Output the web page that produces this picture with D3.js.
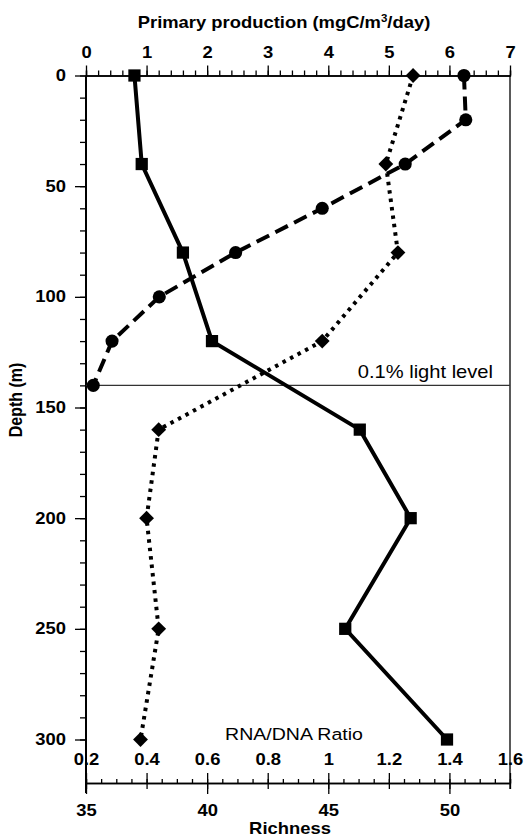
<!DOCTYPE html>
<html>
<head>
<meta charset="utf-8">
<script src="https://cdn.jsdelivr.net/npm/d3@7"></script>
<style>
  body { margin: 0; background: #fff; }
  svg { display: block; }
  text { font-family: Arial, "Liberation Sans", sans-serif; fill: #000; }
</style>
</head>
<body>
<div id="chart"></div>
<script>
// Data ------------------------------------------------------------------------------------------------------
const ppDepth = [0, 20, 40, 60, 80, 100, 120, 140];
const ppValue = [6.24, 6.27, 5.27, 3.90, 2.47, 1.21, 0.43, 0.12];

const sampleDepth = [0, 40, 80, 120, 160, 200, 250, 300];
const rnaDna = [1.28, 1.19, 1.23, 0.98, 0.44, 0.40, 0.44, 0.38];
const richness = [37.0, 37.3, 39.0, 40.2, 46.3, 48.4, 45.7, 49.9];

const lightDepth = 140;

const ppTicks = [0, 1, 2, 3, 4, 5, 6, 7];
const depthTicks = [0, 50, 100, 150, 200, 250, 300];
const rnaTicks = [0.2, 0.4, 0.6, 0.8, 1, 1.2, 1.4, 1.6];
const richTicks = [35, 40, 45, 50];

// Dimensions ------------------------------------------------------------------------------------------------
const width = 525, height = 838;
const plotLeft = 86, plotRight = 510, plotTop = 75.5, bottomAxis = 783;
const sx = 1.15; // text looks a bit wide in the original

const svg = d3.select("#chart").append("svg")
  .attr("width", width)
  .attr("height", height);

// Scales ----------------------------------------------------------------------------------------------------
const xPP = d3.scaleLinear().domain([0, 7]).range([plotLeft, plotRight]);
const xRNA = d3.scaleLinear().domain([0.2, 1.6]).range([plotLeft, plotRight]);
const xRich = d3.scaleLinear().domain([35, 52.5]).range([plotLeft, plotRight]);
const y = d3.scaleLinear().domain([0, 300]).range([plotTop, 739.5]);

// stretch axis text horizontally
const stretch = sel => sel.each(function() {
  const t = d3.select(this);
  const x0 = +t.attr("x") || 0;
  t.attr("x", x0 / sx).attr("transform", `scale(${sx},1)`);
});

const styleAxis = g => {
  g.selectAll("line").attr("stroke", "#000").attr("stroke-width", 1.3);
  g.selectAll("path").attr("stroke", "#000").attr("stroke-width", 1.3);
  g.selectAll("text").attr("font-size", 16).attr("font-weight", "bold")
    .attr("font-family", "Arial, 'Liberation Sans', sans-serif");
};

// Frame lines
svg.append("line").attr("x1", plotLeft).attr("x2", plotLeft).attr("y1", plotTop).attr("y2", 793)
  .attr("stroke", "#000").attr("stroke-width", 2);
svg.append("line").attr("x1", plotRight).attr("x2", plotRight).attr("y1", plotTop).attr("y2", 789)
  .attr("stroke", "#000").attr("stroke-width", 1.3);

// Top axis (primary production)
svg.append("g").attr("transform", `translate(0,${plotTop})`)
  .call(d3.axisTop(xPP).tickValues(d3.range(0, 7.01, 0.2)).tickSize(5).tickFormat(""))
  .call(styleAxis);
const topAx = svg.append("g").attr("transform", `translate(0,${plotTop})`)
  .call(d3.axisTop(xPP).tickValues(ppTicks).tickSize(10).tickPadding(8).tickSizeOuter(0)
    .tickFormat(d3.format("d")))
  .call(styleAxis);
topAx.selectAll("text").call(stretch);

// Left axis (depth)
svg.append("g").attr("transform", `translate(${plotLeft},0)`)
  .call(d3.axisLeft(y).tickValues(d3.range(0, 301, 10)).tickSize(6).tickFormat(""))
  .call(styleAxis)
  .call(g => g.select(".domain").remove());
const leftAx = svg.append("g").attr("transform", `translate(${plotLeft},0)`)
  .call(d3.axisLeft(y).tickValues(depthTicks).tickSize(11).tickPadding(9))
  .call(styleAxis)
  .call(g => g.select(".domain").remove());
leftAx.selectAll("text").call(stretch);

// Bottom axes: RNA/DNA inside (up), richness outside (down)
svg.append("g").attr("transform", `translate(0,${bottomAxis})`)
  .call(d3.axisTop(xRNA).tickValues(d3.range(0.2, 1.601, 0.05)).tickSize(4).tickFormat(""))
  .call(styleAxis);
const rnaAx = svg.append("g").attr("transform", `translate(0,${bottomAxis})`)
  .call(d3.axisTop(xRNA).tickValues(rnaTicks).tickSize(10).tickPadding(8).tickSizeOuter(0)
    .tickFormat(d3.format("~g")))
  .call(styleAxis);
rnaAx.selectAll("text").call(stretch);

svg.append("g").attr("transform", `translate(0,${bottomAxis})`)
  .call(d3.axisBottom(xRich).tickValues(d3.range(35, 52.6, 2.5)).tickSize(6).tickFormat(""))
  .call(styleAxis)
  .call(g => g.select(".domain").remove());
const richAx = svg.append("g").attr("transform", `translate(0,${bottomAxis})`)
  .call(d3.axisBottom(xRich).tickValues(richTicks).tickSize(11).tickPadding(11))
  .call(styleAxis)
  .call(g => g.select(".domain").remove());
richAx.selectAll("text").call(stretch);

// Axis titles and notes
const label = (txt, x, yy, weight, anchor, size) => {
  const t = svg.append("text")
    .attr("transform", `translate(${x},${yy}) scale(${sx},1)`)
    .attr("font-size", size || 16)
    .attr("font-weight", weight)
    .attr("text-anchor", anchor || "middle");
  return t.text(txt);
};

const ppTitle = svg.append("text")
  .attr("transform", `translate(284,28) scale(${sx},1)`)
  .attr("font-size", 16).attr("font-weight", "bold").attr("text-anchor", "middle");
ppTitle.append("tspan").text("Primary production (mgC/m");
ppTitle.append("tspan").attr("font-size", 10).attr("dy", -6).text("3");
ppTitle.append("tspan").attr("dy", 6).text("/day)");

label("Richness", 290, 834, "bold");
label("RNA/DNA Ratio", 294, 740, "normal", "middle", 17);
label("0.1% light level", 493, 378, "normal", "end", 17.5);

svg.append("text")
  .attr("transform", `translate(22,400) rotate(-90) scale(1,${sx})`)
  .attr("font-size", 16).attr("font-weight", "bold").attr("text-anchor", "middle")
  .text("Depth (m)");

// Light level line
svg.append("line")
  .attr("x1", plotLeft).attr("x2", plotRight)
  .attr("y1", y(lightDepth)).attr("y2", y(lightDepth))
  .attr("stroke", "#333").attr("stroke-width", 1.2);

// Series -----------------------------------------------------------------------------------------------------
const ppData = ppDepth.map((d, i) => ({depth: d, value: ppValue[i]}));
const rnaData = sampleDepth.map((d, i) => ({depth: d, value: rnaDna[i]}));
const richData = sampleDepth.map((d, i) => ({depth: d, value: richness[i]}));

const drawLine = (data, xs, dash, w) => {
  svg.append("path")
    .datum(data)
    .attr("fill", "none")
    .attr("stroke", "#000")
    .attr("stroke-width", w)
    .attr("stroke-dasharray", dash)
    .attr("d", d3.line().x(d => xs(d.value)).y(d => y(d.depth)));
};

drawLine(rnaData, xRNA, "3.5,5", 4);
drawLine(ppData, xPP, "14,7", 4);
drawLine(richData, xRich, null, 4);

const drawMarks = (data, xs, type, size, rot) => {
  svg.append("g").selectAll("path")
    .data(data)
    .join("path")
    .attr("d", d3.symbol().type(type).size(size))
    .attr("transform", d => `translate(${xs(d.value)},${y(d.depth)}) rotate(${rot})`)
    .attr("fill", "#000");
};

drawMarks(rnaData, xRNA, d3.symbolSquare, 110, 45);
drawMarks(ppData, xPP, d3.symbolCircle, 135, 0);
drawMarks(richData, xRich, d3.symbolSquare, 150, 0);
</script>
</body>
</html>
